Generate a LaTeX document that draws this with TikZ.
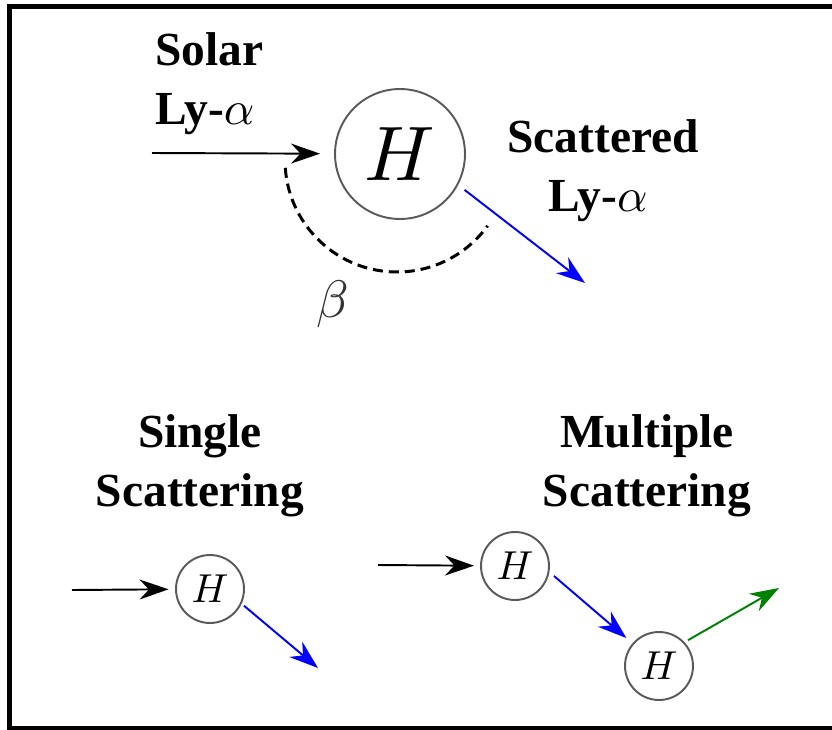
\documentclass[tikz,border=0pt]{standalone}
\usepackage{fontspec}
\setmainfont{Liberation Serif}[BoldFont={Liberation Serif Bold}]
\usetikzlibrary{arrows.meta}
\newcommand{\mth}[2]{\scalebox{#1}{\fontsize{10}{12}\selectfont$#2$}}

\begin{document}
\begin{tikzpicture}[x=0.02cm,y=-0.02cm,>={Stealth[length=0.58cm,width=0.4cm]},
  lbl/.style={font=\rmfamily\bfseries\fontsize{27}{32}\selectfont,inner sep=0pt},
  atom/.style={draw=black!65,line width=1.1pt,circle,inner sep=0pt},
  ray/.style={->,line width=1.1pt}]
\useasboundingbox (0,0) rectangle (832,730);
\draw[line width=2.9pt] (840,6.5) -- (9.8,6.5) -- (9.8,728.5) -- (840,728.5);

% one scattering event, with the angle
\node[lbl,anchor=base west] (solar) at (155,65) {Solar};
\node[lbl,anchor=base west] (lyin) at (155,124) {Ly-\mth{2.7}{\alpha}};
\node[atom,minimum size=2.6cm] (hbig) at (400,154) {\mth{4.4}{H}};
\node[lbl,anchor=base] (scat) at (603,152) {Scattered};
\node[lbl,anchor=base] (lyout) at (598,211) {Ly-\mth{2.7}{\alpha}};
\coordinate (solarin) at (152,153);
\coordinate (scatout) at (585,283);
\draw[ray,shorten >=0.28cm] (solarin) -- (hbig);
\draw[ray,blue,shorten <=0.16cm] (hbig.-28) -- (scatout);
\draw[line width=1.7pt,dash pattern=on 5.7pt off 3.4pt] (397,160) ++(176:112) arc[start angle=176,end angle=36,radius=112];
\node[text=black!80] (beta) at (333,304) {\mth{3}{\beta}};

% single vs multiple
\node[lbl,anchor=base] (single) at (200,447) {Single};
\node[lbl,anchor=base] (singlesc) at (200,506) {Scattering};
\node[lbl,anchor=base] (multi) at (647,447) {Multiple};
\node[lbl,anchor=base] (multisc) at (647,506) {Scattering};
\node[atom,minimum size=1.36cm] (hs) at (210,589) {\mth{2.3}{H}};
\node[atom,minimum size=1.36cm] (hm1) at (515,566) {\mth{2.3}{H}};
\node[atom,minimum size=1.36cm] (hm2) at (659,666) {\mth{2.3}{H}};
\coordinate (sin) at (72,590);
\coordinate (sout) at (318,668);
\coordinate (min) at (378,565);
\coordinate (mout) at (779,588);
\draw[ray,shorten >=0.13cm] (sin) -- (hs);
\draw[ray,blue,shorten <=0.06cm] (hs.-25) -- (sout);
\draw[ray,shorten >=0.12cm] (min) -- (hm1);
\draw[ray,blue,shorten <=0.12cm,shorten >=0.16cm] (hm1.-10) -- (hm2);
\draw[ray,green!50!black,shorten <=0.08cm] (hm2.43) -- (mout);
\end{tikzpicture}
\end{document}
